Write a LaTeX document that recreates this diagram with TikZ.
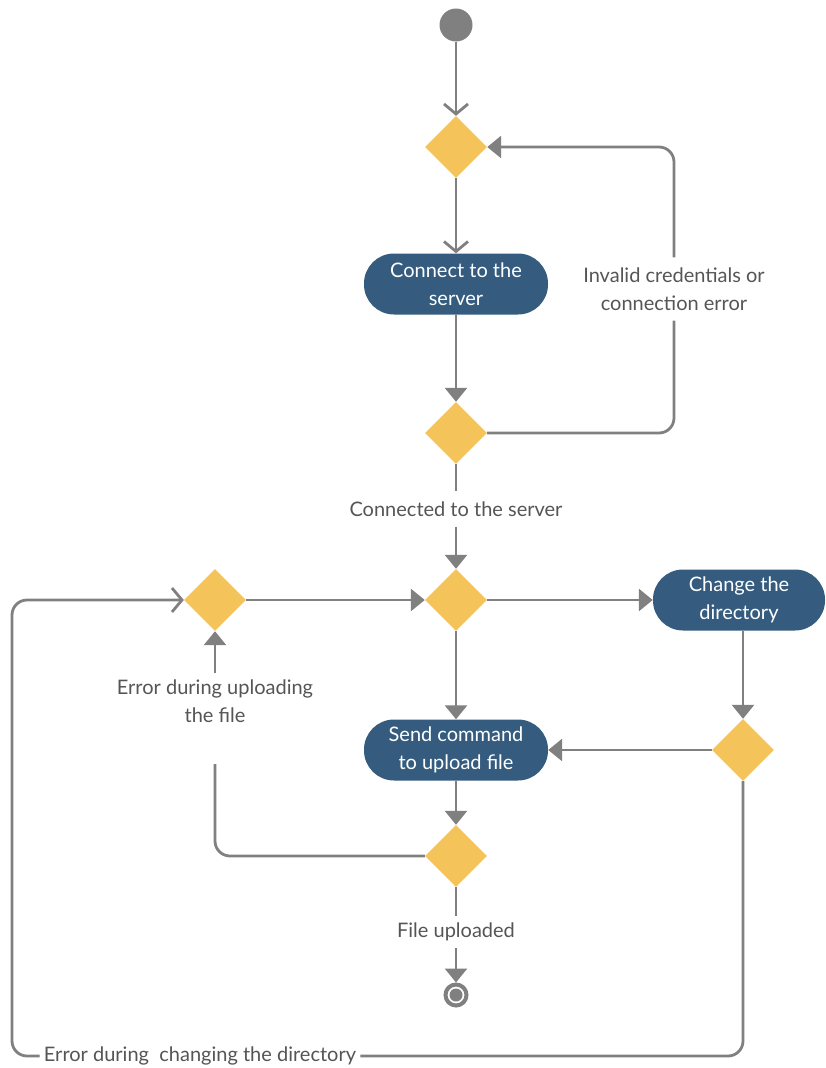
\documentclass[tikz,border=0pt]{standalone}
\usepackage{fontspec}
\setmainfont{Lato}
\usetikzlibrary{arrows.meta,shapes.geometric}
\definecolor{lnc}{RGB}{128,128,128}
\definecolor{dia}{RGB}{244,196,90}
\definecolor{actblue}{RGB}{53,92,126}
\definecolor{txt}{RGB}{85,85,85}
\begin{document}
\begin{tikzpicture}[x=1pt,y=-1pt,
  every node/.style={font=\fontsize{20}{28}\selectfont},
  dec/.style={diamond, aspect=1, fill=dia, minimum width=62pt, minimum height=62pt, inner sep=0pt},
  actbox/.style={rounded corners=30pt, fill=actblue, text=white, minimum width=184pt, minimum height=61pt, align=center, inner sep=0pt},
  lbl/.style={text=txt, align=center, inner xsep=4pt},
  conn/.style={draw=lnc, line width=2.8pt},
  arF/.style={conn, -{Triangle[length=14pt,width=22pt]}},
  arV/.style={conn, -{Straight Barb[length=10pt,width=24pt]}},
]
\useasboundingbox (0,0) rectangle (826,1068);

% nodes
\node[circle, fill=lnc, minimum size=33pt, inner sep=0pt] (start) at (456,25) {};
\node[dec] (d1) at (456,147) {};
\node[actbox] (connect) at (456,284) {Connect to the\\server};
\node[dec] (d2) at (456,433) {};
\node[lbl, inner ysep=10pt] (linv) at (674,289) {Invalid credentials or\\connection error};
\node[lbl, inner ysep=10pt] (lcon) at (456,509) {Connected to the server};
\node[dec] (d3) at (456,600) {};
\node[dec] (dl) at (215,600) {};
\node[actbox, minimum width=172pt] (change) at (739,600) {Change the\\directory};
\node[dec] (d4) at (743,750) {};
\node[actbox] (send) at (456,750) {Send command\\to upload file};
\node[dec] (d5) at (456,856) {};
\node[lbl, inner ysep=6pt] (lupl) at (215,701) {Error during uploading\\the file};
\coordinate (upl) at (215,764);
\node[lbl, inner ysep=7pt] (lfile) at (456,932) {File uploaded};
\node[circle, draw=lnc, line width=4pt, minimum size=21pt, inner sep=0pt] (end) at (456,995) {};
\node[circle, fill=lnc, minimum size=13pt, inner sep=0pt] (endin) at (end.center) {};
\node[lbl, inner ysep=2pt] (ldir) at (200,1056) {Error during~ changing the directory};
\coordinate (lc) at (12,600);

% connectors
\draw[arV] (start) -- (d1);
\draw[arV] (d1) -- (connect);
\draw[arF] (connect) -- (d2);
\draw[conn, rounded corners=15pt] (d2.east) -| (linv.south);
\draw[arF, rounded corners=15pt] (linv.north) |- (d1.east);
\draw[conn] (d2) -- (lcon);
\draw[arF] (lcon) -- (d3);
\draw[arF] (dl) -- (d3);
\draw[arF] (d3) -- (change);
\draw[arF] (change.south -| d4) -- (d4);
\draw[arF] (d4) -- (send);
\draw[arF] (d3) -- (send);
\draw[arF] (send) -- (d5);
\draw[conn, rounded corners=15pt] (d5.west) -| (upl);
\draw[arF] (lupl) -- (dl);
\draw[conn] (d5) -- (lfile);
\draw[arF] (lfile) -- (end);
\draw[conn, rounded corners=15pt] (d4.south) |- (ldir.east);
\draw[arV, rounded corners=15pt] (ldir.west) -| (lc) -- (dl.west);
\end{tikzpicture}
\end{document}
